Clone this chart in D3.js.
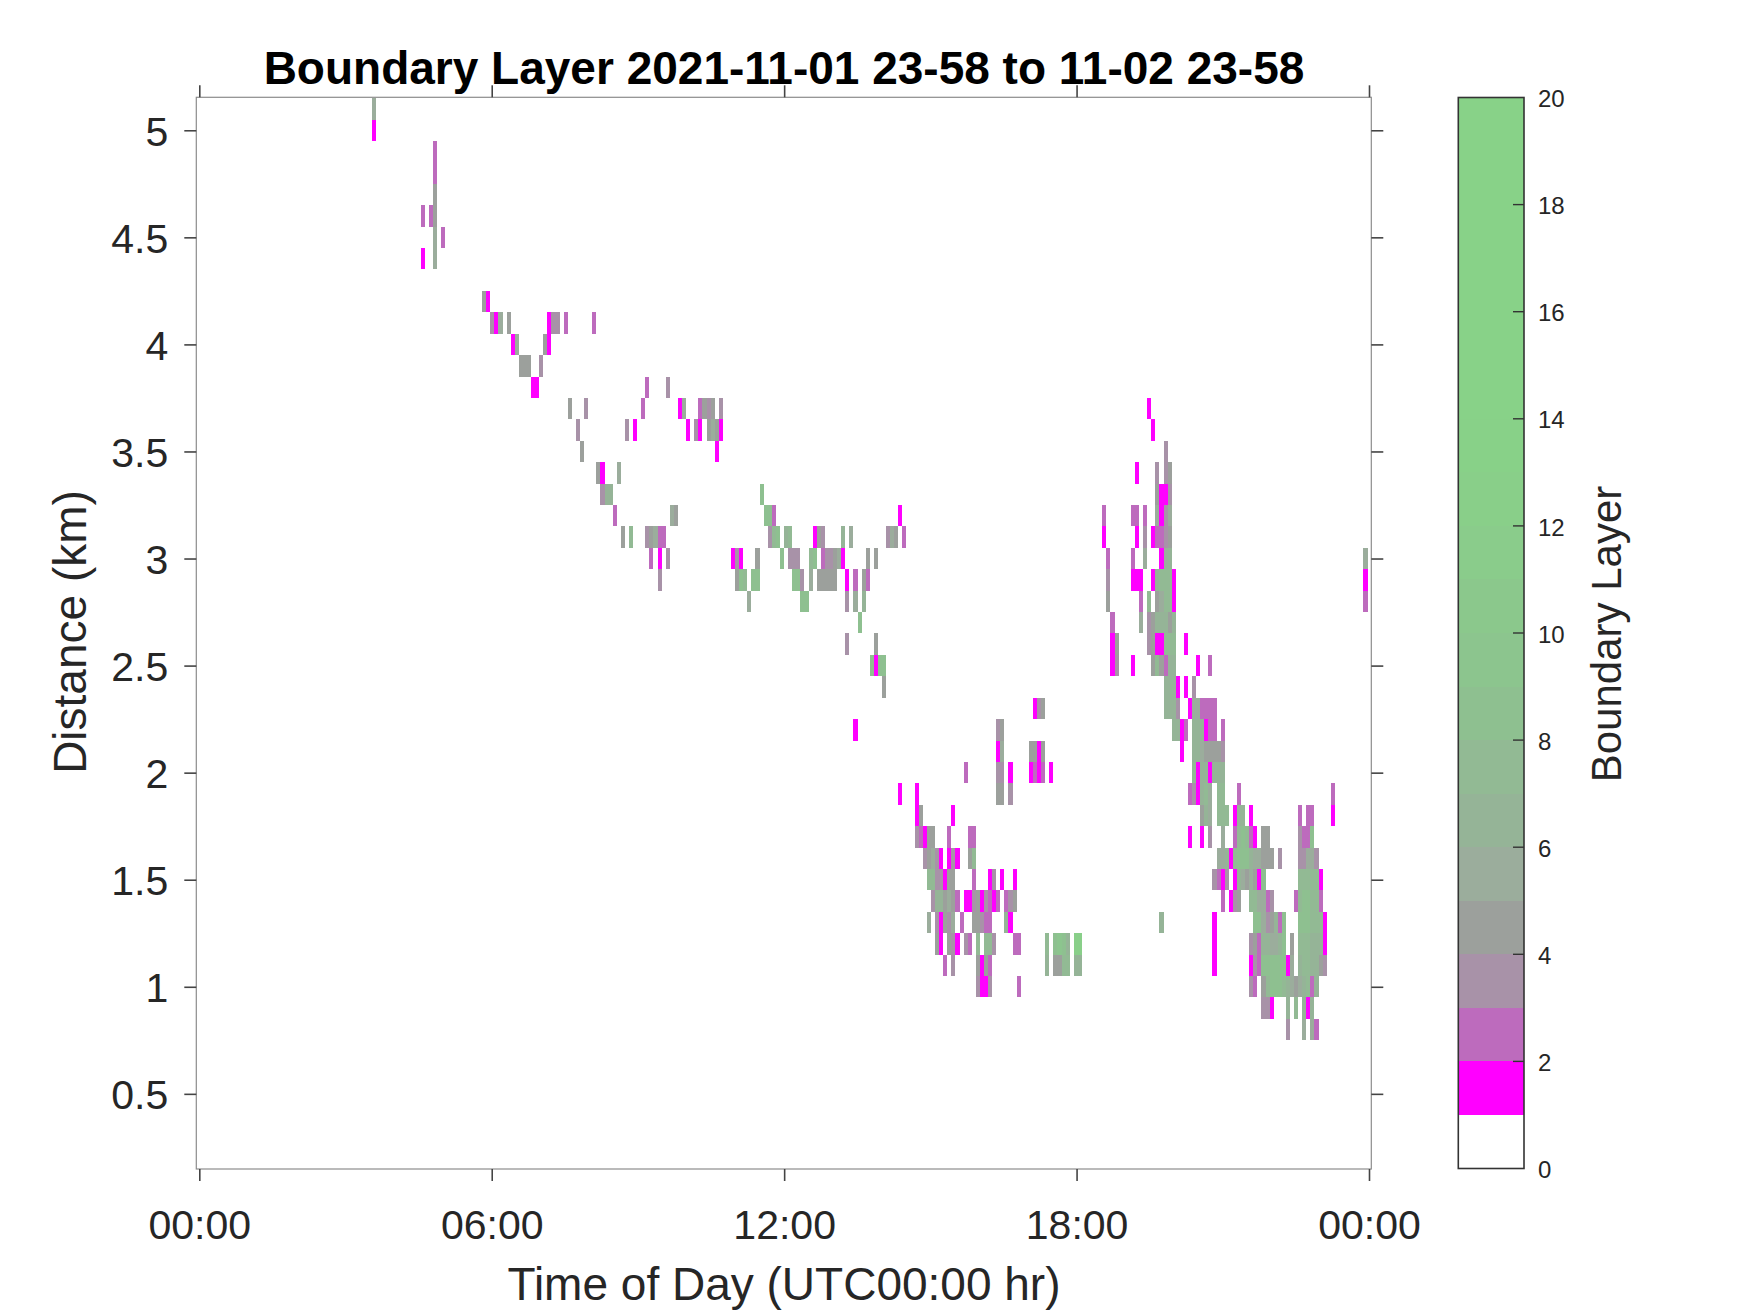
<!DOCTYPE html>
<html><head><meta charset="utf-8">
<script src="https://cdn.jsdelivr.net/npm/d3@7"></script>
<style>html,body{margin:0;padding:0;background:#fff}svg{display:block}text{font-family:"Liberation Sans",Arial,sans-serif}</style>
</head><body><svg id="c" width="1750" height="1313"></svg>
<script>
const chartTitle="Boundary Layer 2021-11-01 23-58 to 11-02 23-58";
const xLabel="Time of Day (UTC00:00 hr)", yLabel="Distance (km)", cLabel="Boundary Layer";
const xTickMinutes=[0,360,720,1080,1440];
const xTickLabels=["00:00","06:00","12:00","18:00","00:00"];
const yTicks=[0.5,1,1.5,2,2.5,3,3.5,4,4.5,5];
const cTicks=[0,2,4,6,8,10,12,14,16,18,20];
const colourBins=["#ffffff","#ff00ff","#bd6bbd","#a892a8","#9ca09c","#9bad9c","#95b497","#92ba94","#8ec090","#8cc58e","#8bc88c","#8acc8b","#89cf89","#88d188","#88d288","#88d288","#88d288","#88d288","#88d288","#88d288"];
const rowKm=[5.1,5.0,4.9,4.8,4.7,4.6,4.5,4.4,4.2,4.1,4.0,3.9,3.8,3.7,3.6,3.5,3.4,3.3,3.2,3.1,3.0,2.9,2.8,2.7,2.6,2.5,2.4,2.3,2.2,2.1,2.0,1.9,1.8,1.7,1.6,1.5,1.4,1.3,1.2,1.1,1.0,0.9,0.8];
// each row: [time-column, value bin] pairs
const rowCells=[
[[42,5]],
[[42,1]],
[[57,2]],
[[57,2]],
[[57,4]],
[[54,2],[56,2],[57,4]],
[[57,5],[59,2]],
[[54,1],[57,5]],
[[69,4],[70,1]],
[[71,3],[72,1],[73,5],[75,4],[85,1],[86,3],[87,3],[89,2],[96,2]],
[[76,1],[77,5],[84,4],[85,1]],
[[78,4],[79,4],[80,4],[83,3]],
[[81,1],[82,1],[109,2],[114,3]],
[[90,4],[94,3],[108,2],[117,1],[118,5],[122,2],[123,4],[124,3],[125,4],[127,3],[232,1]],
[[92,3],[104,3],[106,1],[119,1],[121,3],[122,1],[124,4],[125,5],[126,4],[127,1],[233,1]],
[[93,4],[126,1],[236,3]],
[[97,4],[98,1],[102,5],[229,1],[234,3],[236,3],[237,4]],
[[98,3],[99,6],[100,6],[137,8],[234,4],[235,1],[236,1],[237,3]],
[[101,2],[115,5],[116,4],[138,8],[139,8],[140,2],[171,1],[221,2],[228,2],[229,2],[231,2],[234,5],[235,1],[236,3],[237,5]],
[[103,4],[105,7],[109,3],[110,4],[111,5],[112,2],[113,2],[139,3],[140,7],[141,8],[143,6],[144,7],[150,1],[151,4],[152,3],[157,6],[159,5],[168,3],[169,5],[170,4],[172,2],[221,1],[229,1],[231,3],[233,1],[234,2],[235,2],[236,3],[237,4]],
[[110,2],[112,1],[114,3],[130,1],[131,3],[132,1],[136,4],[142,8],[144,3],[145,3],[146,3],[149,7],[150,8],[152,2],[153,3],[154,3],[155,4],[156,5],[157,1],[163,4],[165,4],[222,2],[228,2],[231,5],[235,1],[236,5],[237,6],[285,5]],
[[112,3],[131,4],[132,8],[133,7],[135,8],[136,8],[145,8],[146,8],[147,3],[149,5],[151,4],[152,4],[153,4],[154,4],[155,4],[158,1],[160,2],[162,4],[163,2],[222,3],[228,1],[229,1],[230,1],[233,1],[234,6],[235,7],[236,7],[237,7],[238,1],[285,1]],
[[134,5],[147,8],[148,8],[158,3],[160,5],[162,6],[222,4],[230,2],[232,7],[234,4],[235,5],[236,7],[237,7],[238,1],[285,2]],
[[161,8],[223,2],[230,5],[232,3],[233,4],[234,6],[235,6],[236,6],[237,4],[238,6]],
[[158,3],[165,4],[223,1],[224,4],[232,3],[233,4],[234,1],[235,1],[236,7],[237,7],[238,7],[241,1]],
[[164,8],[165,1],[166,8],[167,8],[223,1],[224,3],[228,1],[233,4],[234,7],[235,4],[236,2],[237,6],[238,6],[244,1],[247,2]],
[[167,4],[236,6],[237,6],[238,6],[239,1],[241,1],[243,3]],
[[204,1],[205,3],[206,4],[236,6],[237,6],[238,6],[239,3],[242,1],[243,5],[244,5],[245,2],[246,2],[247,2],[248,2]],
[[160,1],[195,3],[196,4],[238,6],[239,6],[240,1],[241,2],[243,6],[244,6],[245,6],[246,1],[247,2],[248,2],[250,2]],
[[195,1],[196,5],[203,4],[204,4],[205,1],[206,4],[240,1],[243,6],[244,6],[245,5],[246,4],[247,4],[248,4],[249,4],[250,3]],
[[187,2],[195,3],[196,3],[198,1],[203,1],[204,2],[205,1],[206,2],[208,1],[243,7],[244,1],[245,6],[246,6],[247,1],[248,6],[249,6],[250,6]],
[[171,1],[175,1],[195,4],[196,4],[198,3],[242,2],[243,3],[244,1],[245,6],[246,7],[247,5],[249,7],[250,7],[254,2],[277,2]],
[[175,1],[176,4],[184,1],[245,4],[246,6],[247,5],[249,7],[250,7],[251,7],[253,1],[254,6],[255,6],[257,1],[269,2],[271,2],[272,2],[277,1]],
[[175,3],[176,2],[177,1],[178,4],[179,4],[183,2],[188,2],[189,2],[242,1],[245,1],[247,3],[250,5],[253,2],[254,7],[255,8],[256,7],[257,2],[258,1],[260,4],[261,4],[269,3],[270,2],[271,2],[272,8]],
[[177,3],[178,4],[179,5],[180,3],[181,1],[183,1],[184,3],[185,1],[188,4],[189,7],[249,5],[250,5],[251,6],[252,1],[253,7],[254,8],[255,8],[256,8],[257,6],[258,5],[259,5],[260,4],[261,4],[262,4],[264,3],[269,3],[270,3],[271,5],[272,5],[273,3]],
[[178,7],[179,7],[180,3],[181,3],[182,1],[183,4],[184,4],[189,2],[193,1],[194,3],[196,1],[199,1],[248,3],[249,2],[250,1],[251,3],[253,1],[254,6],[255,5],[256,4],[257,5],[258,4],[259,1],[260,8],[269,7],[270,7],[271,7],[272,7],[273,7],[274,1]],
[[179,3],[180,6],[181,6],[182,4],[183,5],[184,4],[185,2],[187,1],[188,1],[189,3],[190,4],[191,1],[192,3],[193,2],[194,1],[195,2],[197,2],[198,3],[199,4],[250,2],[252,1],[253,3],[254,4],[257,7],[258,7],[259,5],[260,5],[261,2],[262,3],[268,2],[269,7],[270,8],[271,8],[272,7],[273,7],[274,2]],
[[178,5],[180,3],[181,1],[182,4],[183,3],[184,5],[186,2],[189,4],[190,4],[191,3],[192,2],[193,2],[197,6],[198,1],[235,6],[248,1],[258,8],[259,8],[260,5],[261,3],[262,4],[263,6],[264,2],[265,8],[269,8],[270,8],[271,8],[272,7],[273,7],[274,7],[275,1]],
[[180,4],[181,1],[183,4],[184,3],[185,1],[187,3],[188,2],[190,7],[192,7],[193,7],[194,3],[199,2],[200,2],[207,7],[209,8],[210,9],[211,8],[212,6],[214,12],[215,12],[248,1],[257,3],[258,4],[259,2],[260,6],[261,6],[262,5],[263,5],[264,6],[265,8],[267,4],[269,7],[270,7],[271,7],[272,6],[273,6],[274,6],[275,1]],
[[182,2],[184,3],[190,4],[191,1],[192,4],[193,2],[207,6],[209,4],[210,4],[211,7],[212,7],[214,6],[215,6],[248,1],[257,1],[258,3],[259,2],[260,8],[261,8],[262,8],[263,8],[264,8],[265,8],[266,1],[267,5],[269,6],[270,7],[271,7],[272,6],[273,6],[274,4],[275,3]],
[[190,3],[191,1],[192,1],[193,3],[200,2],[257,3],[258,2],[260,4],[261,7],[262,8],[263,8],[264,8],[265,7],[266,6],[267,5],[268,4],[269,5],[270,6],[271,7],[272,2],[273,6]],
[[260,3],[261,3],[262,1],[266,6],[268,7],[270,6],[271,1],[272,6]],
[[266,3],[270,5],[272,5],[273,2]]
];
const colStartMinute=1.6, colMinutes=5.023, rowKmStep=0.1;

const svg=d3.select("#c");
const L=196.3,R=1371.3,T=97.3,B=1169;
const x=d3.scaleLinear().domain([0,1440]).range([199.3,1369]);
const y=d3.scaleLinear().domain([0.149,5.154]).range([B,T]);
const cx0=1458.3,cx1=1524;
const cy=d3.scaleLinear().domain([0,20]).range([1168.5,97.5]);
const colour=d3.scaleQuantize().domain([0,20]).range(colourBins);
const ink="#262626";

const cells=[];
rowKm.forEach((km,i)=>rowCells[i].forEach(([col,v])=>cells.push({km,col,v})));
svg.append("g").selectAll("rect").data(cells).join("rect")
 .attr("x",d=>x(colStartMinute+d.col*colMinutes))
 .attr("width",d=>x(colStartMinute+(d.col+1)*colMinutes)-x(colStartMinute+d.col*colMinutes))
 .attr("y",d=>y(d.km+rowKmStep/2))
 .attr("height",d=>y(d.km-rowKmStep/2)-y(d.km+rowKmStep/2))
 .attr("fill",d=>colour(d.v+0.5))
 .attr("shape-rendering","crispEdges");

svg.append("rect").attr("x",L).attr("y",T).attr("width",R-L).attr("height",B-T)
 .attr("fill","none").attr("stroke","#8c8c8c").attr("stroke-width",1.2);

function style(g,size,dy){
 g.select(".domain").remove();
 g.selectAll(".tick line").attr("stroke","#444").attr("stroke-width",1.6);
 g.selectAll(".tick text").attr("fill",ink).attr("font-size",size).attr("font-family",'"Liberation Sans"');
 if(dy) g.selectAll(".tick text").attr("dy",dy);
}
const fmt=(d)=>xTickLabels[xTickMinutes.indexOf(d)];
function ticksAt(axis,tx,ty){return svg.append("g").attr("transform",`translate(${tx},${ty})`).call(axis);}
// axes sit on the box edges; their ticks start where the box line is
ticksAt(d3.axisBottom(x).tickValues(xTickMinutes).tickFormat(fmt).tickSize(12).tickPadding(29),0,B).call(style,41);
ticksAt(d3.axisTop(x).tickValues(xTickMinutes).tickFormat("").tickSize(12),0,T).call(style,41);
ticksAt(d3.axisLeft(y).tickValues(yTicks).tickFormat(d3.format("")).tickSize(12).tickPadding(16),L,0).call(style,41,"0.36em");
ticksAt(d3.axisRight(y).tickValues(yTicks).tickFormat("").tickSize(12),R,0).call(style,41);

// colour bar
svg.append("g").selectAll("rect").data(d3.range(20)).join("rect")
 .attr("x",cx0).attr("width",cx1-cx0)
 .attr("y",d=>cy(d+1)).attr("height",d=>cy(d)-cy(d+1))
 .attr("fill",d=>colour(d+0.5)).attr("shape-rendering","crispEdges");
ticksAt(d3.axisRight(cy).tickValues(cTicks).tickSize(0).tickPadding(14),cx1,0).call(style,24,"0.38em");
svg.append("g").attr("transform",`translate(${cx1},0)`).selectAll("line").data(cTicks.slice(1,-1)).join("line")
 .attr("x1",-11).attr("x2",0).attr("y1",d=>cy(d)).attr("y2",d=>cy(d)).attr("stroke","#333").attr("stroke-width",1.4);
svg.append("rect").attr("x",cx0).attr("y",cy(20)).attr("width",cx1-cx0).attr("height",cy(0)-cy(20))
 .attr("fill","none").attr("stroke","#333").attr("stroke-width",1.6);

svg.append("text").attr("x",784).attr("y",84).attr("text-anchor","middle").attr("font-weight","bold").attr("font-size",46).attr("fill","#000").text(chartTitle);
svg.append("text").attr("x",784).attr("y",1300).attr("text-anchor","middle").attr("font-size",46).attr("fill",ink).text(xLabel);
svg.append("text").attr("transform","translate(86,632) rotate(-90)").attr("text-anchor","middle").attr("font-size",46).attr("fill",ink).text(yLabel);
svg.append("text").attr("transform","translate(1621,634) rotate(-90)").attr("text-anchor","middle").attr("font-size",42).attr("fill",ink).text(cLabel);
</script></body></html>
